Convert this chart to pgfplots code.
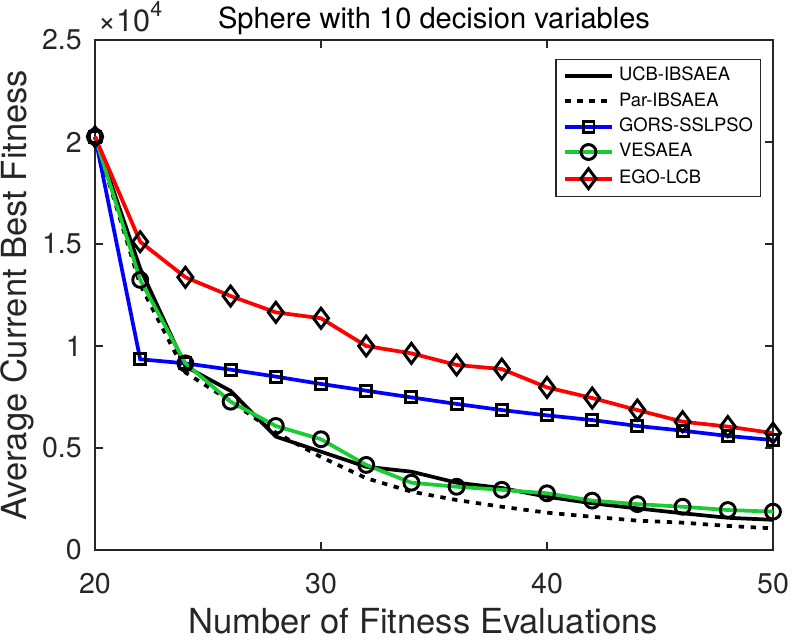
\documentclass[border=0pt]{standalone}
\usepackage{fontspec}
\setmainfont{TeX Gyre Heros}
\usepackage{pgfplots}
\pgfplotsset{compat=1.18}

\definecolor{axgray}{rgb}{0.15,0.15,0.15}
\definecolor{vgreen}{rgb}{0.1,0.8,0.2}

\begin{document}
\begin{tikzpicture}
\begin{axis}[
  name=ax,
  scale only axis,
  width=508.5pt, height=382.5pt,
  xmin=20, xmax=50, ymin=0, ymax=25000,
  xtick={20,30,40,50},
  ytick={0,5000,10000,15000,20000,25000},
  yticklabels={0,0.5,1,1.5,2,2.5},
  scaled y ticks=false,
  /pgf/number format/assume math mode=true,
  tick align=inside,
  major tick length=6pt,
  axis line style={axgray, line width=1.1pt},
  every tick/.style={axgray, line width=1.1pt},
  tick label style={font=\fontsize{21.4pt}{24pt}\selectfont, text=axgray},
  xticklabel style={anchor=base, yshift=-32.25pt},
  yticklabel style={anchor=east, inner sep=0pt, xshift=-9.75pt},
  xlabel={Number of Fitness Evaluations},
  ylabel={Average Current Best Fitness},
  label style={font=\fontsize{25.9pt}{29pt}\selectfont, text=axgray},
  xlabel style={at={(axis description cs:0.484,-0.164)}, anchor=base},
  ylabel style={at={(axis description cs:-0.1007,0.5)}, anchor=base},
  title={Sphere with 10 decision variables},
  every axis title shift=0pt,
  title style={font=\fontsize{21.8pt}{24pt}\selectfont, text=black,
    at={(axis description cs:0.5,1.0235)}, anchor=base},
  clip=false,
  legend cell align=left,
  legend image code/.code={%
    \draw[mark repeat=2, mark phase=2, #1]
      plot coordinates {(0pt,0pt) (17.5pt,0pt) (35pt,0pt)};},
  legend style={
    at={(axis description cs:1,1)}, anchor=north east,
    xshift=-9pt, yshift=-14.25pt,
    draw=axgray, line width=1pt, fill=white,
    font=\fontsize{13.8pt}{16pt}\selectfont,
    inner xsep=5.5pt, inner ysep=5.75pt,
    row sep=6pt, column sep=4pt,
    nodes={inner sep=0pt, text height=10pt, text depth=3pt},
  },
]

% UCB-IBSAEA
\addplot[black, line width=2.8pt] coordinates {
  (20,20260) (22,13800) (24,9000) (26,7800) (28,5560) (30,4820)
  (32,4080) (34,3840) (36,3300) (38,3040) (40,2610) (42,2290)
  (44,2040) (46,1800) (48,1580) (50,1480)};
\addlegendentry{UCB-IBSAEA}

% Par-IBSAEA
\addplot[black, line width=2.8pt, dash pattern=on 4pt off 5pt] coordinates {
  (20,20260) (22,13000) (24,8700) (26,7300) (28,5750) (30,4560)
  (32,3520) (34,2860) (36,2450) (38,2120) (40,1830) (42,1630)
  (44,1440) (46,1340) (48,1180) (50,1060)};
\addlegendentry{Par-IBSAEA}

% GORS-SSLPSO
\addplot[blue, line width=2.8pt, mark=square, mark size=4.1pt,
  mark options={solid, draw=black, fill=white, line width=2.2pt}] coordinates {
  (20,20260) (22,9350) (24,9150) (26,8840) (28,8500) (30,8140)
  (32,7810) (34,7480) (36,7160) (38,6860) (40,6600) (42,6370)
  (44,6080) (46,5850) (48,5590) (50,5390)};
\addlegendentry{GORS-SSLPSO}

% VESAEA
\addplot[vgreen, line width=2.8pt, mark=o, mark size=5.6pt,
  mark options={solid, draw=black, fill=white, line width=2.2pt}] coordinates {
  (20,20260) (22,13240) (24,9150) (26,7270) (28,6080) (30,5430)
  (32,4170) (34,3300) (36,3100) (38,2950) (40,2780) (42,2420)
  (44,2250) (46,2120) (48,1960) (50,1880)};
\addlegendentry{VESAEA}

% EGO-LCB
\addplot[red, line width=2.8pt, mark=diamond, mark size=7.5pt,
  mark options={solid, draw=black, fill=white, line width=2.2pt}] coordinates {
  (20,20260) (22,15110) (24,13370) (26,12450) (28,11650) (30,11360)
  (32,10000) (34,9640) (36,9070) (38,8870) (40,7970) (42,7450)
  (44,6860) (46,6290) (48,6050) (50,5730)};
\addlegendentry{EGO-LCB}

% axis multiplier
\node[anchor=base west, inner sep=0pt, text=axgray,
  font=\fontsize{23pt}{26pt}\selectfont]
  at (axis description cs:0.0044,1.0163)
  {×10\raisebox{0.48em}{\fontsize{16pt}{18pt}\selectfont 4}};
\end{axis}
\pgfresetboundingbox
\path ([shift={(-71.25pt,-67.5pt)}]ax.south west)
  rectangle ([shift={(14.25pt,30pt)}]ax.north east);
\end{tikzpicture}
\end{document}
